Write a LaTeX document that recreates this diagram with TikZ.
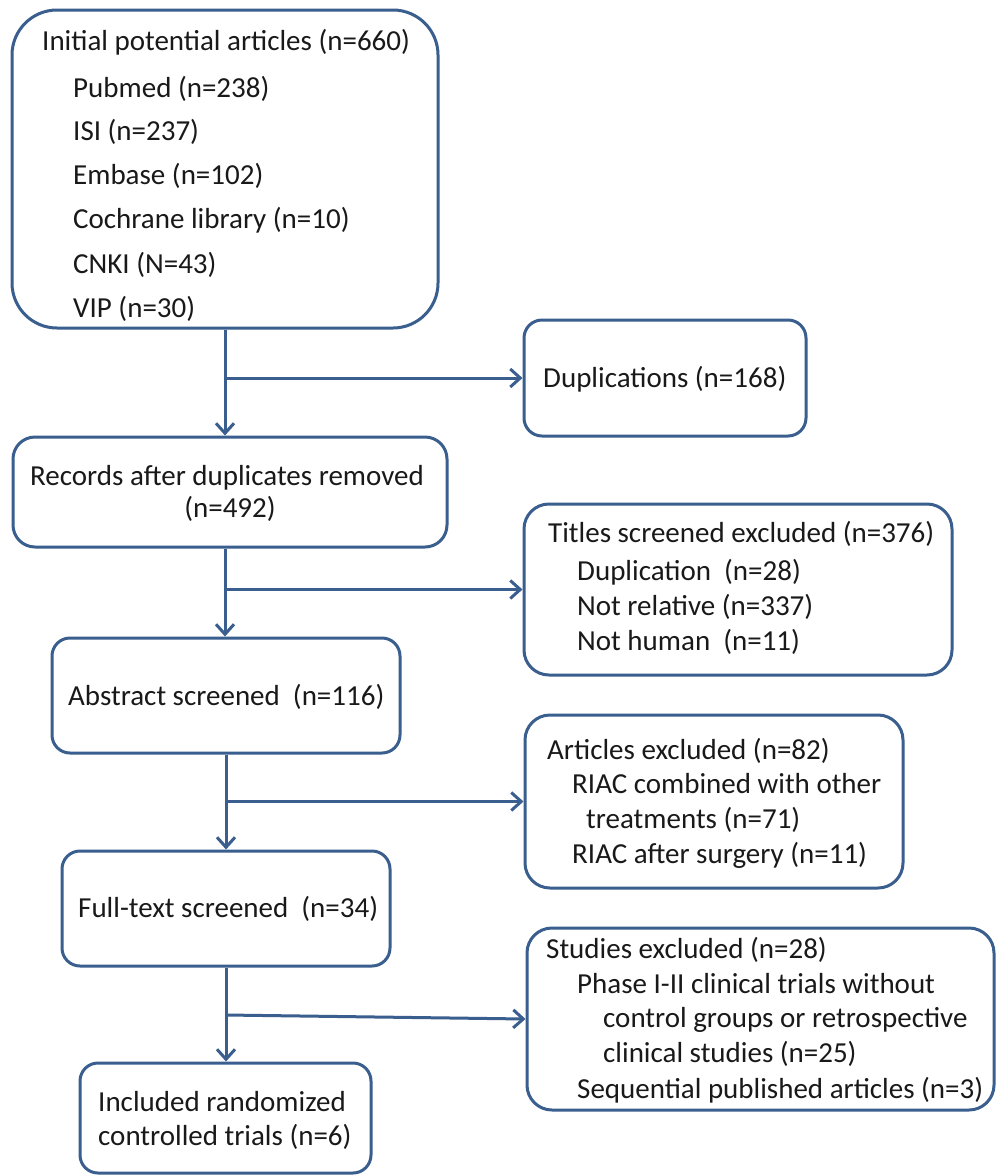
\documentclass[tikz,border=0pt]{standalone}
\usepackage{fontspec}
\setmainfont{Carlito}
\usetikzlibrary{arrows.meta}
\definecolor{lineblue}{RGB}{58,94,142}
\definecolor{txtgray}{RGB}{25,25,25}
\tikzset{
  box/.style={draw=lineblue, line width=3pt, fill=white, inner sep=0pt},
  txt/.style={inner sep=0pt, anchor=base west, text=txtgray, font=\fontsize{29}{34}\selectfont},
  txtc/.style={txt, anchor=base},
  arr/.style={draw=lineblue, line width=3pt, -{Straight Barb[length=10pt,width=18pt,line width=3pt]}},
}
\begin{document}
\begin{tikzpicture}[x=1pt,y=-1pt]
\useasboundingbox[fill=white] (0,0) rectangle (998,1176);
% boxes
\node[box, minimum width=426pt, minimum height=318pt, rounded corners=45pt] (b1) at (225,169) {};
\node[box, minimum width=282pt, minimum height=116pt, rounded corners=18pt] (dup) at (665,378) {};
\node[box, minimum width=434pt, minimum height=110pt, rounded corners=22pt] (b2) at (230,492) {};
\node[box, minimum width=428pt, minimum height=171pt, rounded corners=25pt] (tit) at (738,589.5) {};
\node[box, minimum width=348pt, minimum height=115pt, rounded corners=18pt] (abs) at (226,695.5) {};
\node[box, minimum width=378pt, minimum height=173pt, rounded corners=25pt] (art) at (714,801.5) {};
\node[box, minimum width=328pt, minimum height=115pt, rounded corners=18pt] (full) at (226,908.5) {};
\node[box, minimum width=467pt, minimum height=182pt, rounded corners=25pt] (stud) at (760.5,1019) {};
\node[box, minimum width=291pt, minimum height=110pt, rounded corners=18pt] (inc) at (225.5,1118) {};
% texts
\node[txt] (t1a) at (42,50) {Initial potential articles (n=660)};
\node[txt] (t1b) at (73,97) {Pubmed (n=238)};
\node[txt] (t1c) at (73,140) {ISI (n=237)};
\node[txt] (t1d) at (73,184) {Embase (n=102)};
\node[txt] (t1e) at (73,228) {Cochrane library (n=10)};
\node[txt] (t1f) at (73,273) {CNKI (N=43)};
\node[txt] (t1g) at (73,317) {VIP (n=30)};
\node[txt] (tdup) at (543,387) {Duplications (n=168)};
\node[txt] (t2a) at (30,485) {Records after duplicates removed};
\node[txtc] (t2b) at (230,517) {(n=492)};
\node[txt] (t3a) at (548,542) {Titles screened excluded (n=376)};
\node[txt] (t3b) at (577,580) {Duplication\ \ (n=28)};
\node[txt] (t3c) at (577,615) {Not relative (n=337)};
\node[txt] (t3d) at (577,650) {Not human\ \ (n=11)};
\node[txt] (tabs) at (68,705) {Abstract screened\ \ (n=116)};
\node[txt] (t4a) at (547,759) {Articles excluded (n=82)};
\node[txt] (t4b) at (572,793) {RIAC combined with other};
\node[txt] (t4c) at (586,828) {treatments (n=71)};
\node[txt] (t4d) at (572,863) {RIAC after surgery (n=11)};
\node[txt] (tfull) at (78,917) {Full-text screened\ \ (n=34)};
\node[txt] (t5a) at (546,958) {Studies excluded (n=28)};
\node[txt] (t5b) at (577,993) {Phase I-II clinical trials without};
\node[txt] (t5c) at (603,1027) {control groups or retrospective};
\node[txt] (t5d) at (603,1062) {clinical studies (n=25)};
\node[txt] (t5e) at (577,1098) {Sequential published articles (n=3)};
\node[txt] (t6a) at (98,1111) {Included randomized};
\node[txt] (t6b) at (98,1145) {controlled trials (n=6)};
% connectors
\coordinate (j1) at (b1.south |- dup.west);
\coordinate (j2) at (b1.south |- tit.west);
\coordinate (j3) at (abs.south |- art.west);
\coordinate (j4) at ([yshift=4pt]full.south |- stud.west);
\draw[arr] (b1.south) -- (b1.south |- b2.north);
\draw[arr] (j1) -- (dup.west);
\draw[arr] (b1.south |- b2.south) -- (b1.south |- abs.north);
\draw[arr] (j2) -- (tit.west);
\draw[arr] (abs.south) -- (abs.south |- full.north);
\draw[arr] (j3) -- (art.west);
\draw[arr] (full.south) -- (full.south |- inc.north);
\draw[arr] (j4) -- (stud.west);
\end{tikzpicture}
\end{document}
